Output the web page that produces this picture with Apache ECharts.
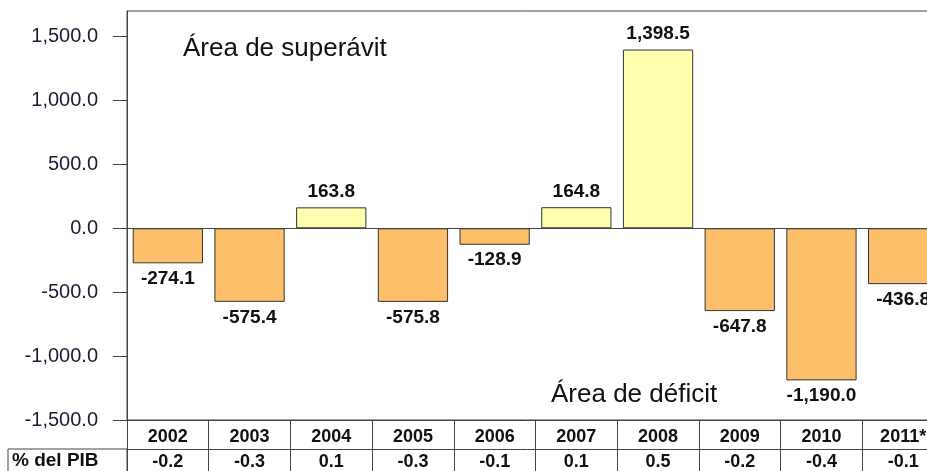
<!DOCTYPE html>
<html>
<head>
<meta charset="utf-8">
<script src="https://cdn.jsdelivr.net/npm/echarts@6/dist/echarts.min.js"></script>
<style>
html, body { margin: 0; padding: 0; background: #fff; }
#chart { width: 927px; height: 471px; }
</style>
</head>
<body>
<div id="chart"></div>
<script>
// balance anual (millones) y su % del PIB
var years = ['2002', '2003', '2004', '2005', '2006', '2007', '2008', '2009', '2010', '2011*'];
var balance = [-274.1, -575.4, 163.8, -575.8, -128.9, 164.8, 1398.5, -647.8, -1190.0, -436.8];
var pibPct = ['-0.2', '-0.3', '0.1', '-0.3', '-0.1', '0.1', '0.5', '-0.2', '-0.4', '-0.1'];
var yTicks = [-1500, -1000, -500, 0, 500, 1000, 1500];

var font = 'Liberation Sans, Arial, sans-serif';

function fmt(v) {
    return v.toLocaleString('en-US', { minimumFractionDigits: 1, maximumFractionDigits: 1 });
}

var chartDom = document.getElementById('chart');
var myChart = echarts.init(chartDom);
var option;
option = {
    animation: false,
    grid: {
        left: 127,
        top: 11,
        bottom: 51,
        width: 817,
        outerBoundsMode: 'none',
        containLabel: false,
        show: true,
        borderColor: '#444',
        borderWidth: 1
    },
    xAxis: [
        {
            type: 'category',
            data: years,
            position: 'bottom',
            axisLine: { onZero: false, lineStyle: { color: '#444', width: 1 } },
            axisTick: { show: true, inside: false, length: 51, lineStyle: { color: '#444' } },
            axisLabel: {
                margin: 8,
                color: '#111',
                fontFamily: font,
                fontWeight: 'bold',
                fontSize: 18
            }
        },
        {
            type: 'category',
            data: pibPct,
            position: 'bottom',
            offset: 29,
            axisLine: { onZero: false, lineStyle: { color: '#444', width: 1 } },
            axisTick: { show: false },
            axisLabel: {
                margin: 4,
                color: '#111',
                fontFamily: font,
                fontWeight: 'bold',
                fontSize: 18
            }
        }
    ],
    yAxis: {
        type: 'value',
        min: -1500,
        max: 1700,
        interval: 500,
        splitLine: { show: false },
        axisLine: { show: true, lineStyle: { color: '#444' } },
        axisTick: { show: true, length: 14, customValues: yTicks, lineStyle: { color: '#444' } },
        axisLabel: {
            margin: 29,
            customValues: yTicks,
            color: '#1c1c30',
            fontFamily: font,
            fontSize: 20,
            formatter: function (v) { return fmt(v); }
        }
    },
    series: [
        {
            type: 'bar',
            xAxisIndex: 0,
            data: balance,
            barCategoryGap: '14%',
            itemStyle: {
                color: function (p) { return p.value >= 0 ? '#FFFFB0' : '#FDBF6A'; },
                borderColor: '#333',
                borderWidth: 1
            },
            label: {
                show: true,
                position: 'outside',
                distance: 6,
                color: '#111',
                fontFamily: font,
                fontWeight: 'bold',
                fontSize: 19,
                formatter: function (p) { return fmt(p.value); }
            },
            markLine: {
                silent: true,
                symbol: 'none',
                label: { show: false },
                lineStyle: { color: '#444', type: 'solid', width: 1 },
                data: [{ yAxis: 0 }]
            }
        }
    ],
    graphic: [
        {
            type: 'text',
            left: 183,
            top: 36,
            style: { text: 'Área de superávit', font: '26px ' + font, fill: '#111' }
        },
        {
            type: 'text',
            left: 551,
            top: 382,
            style: { text: 'Área de déficit', font: '26px ' + font, fill: '#111' }
        },
        {
            type: 'rect',
            shape: { x: 8, y: 449, width: 119, height: 30 },
            style: { fill: 'none', stroke: '#444', lineWidth: 1 }
        },
        {
            type: 'text',
            left: 12,
            top: 451,
            style: { text: '% del PIB', font: 'bold 19px ' + font, fill: '#111' }
        }
    ]
};
option && myChart.setOption(option);
</script>
</body>
</html>
